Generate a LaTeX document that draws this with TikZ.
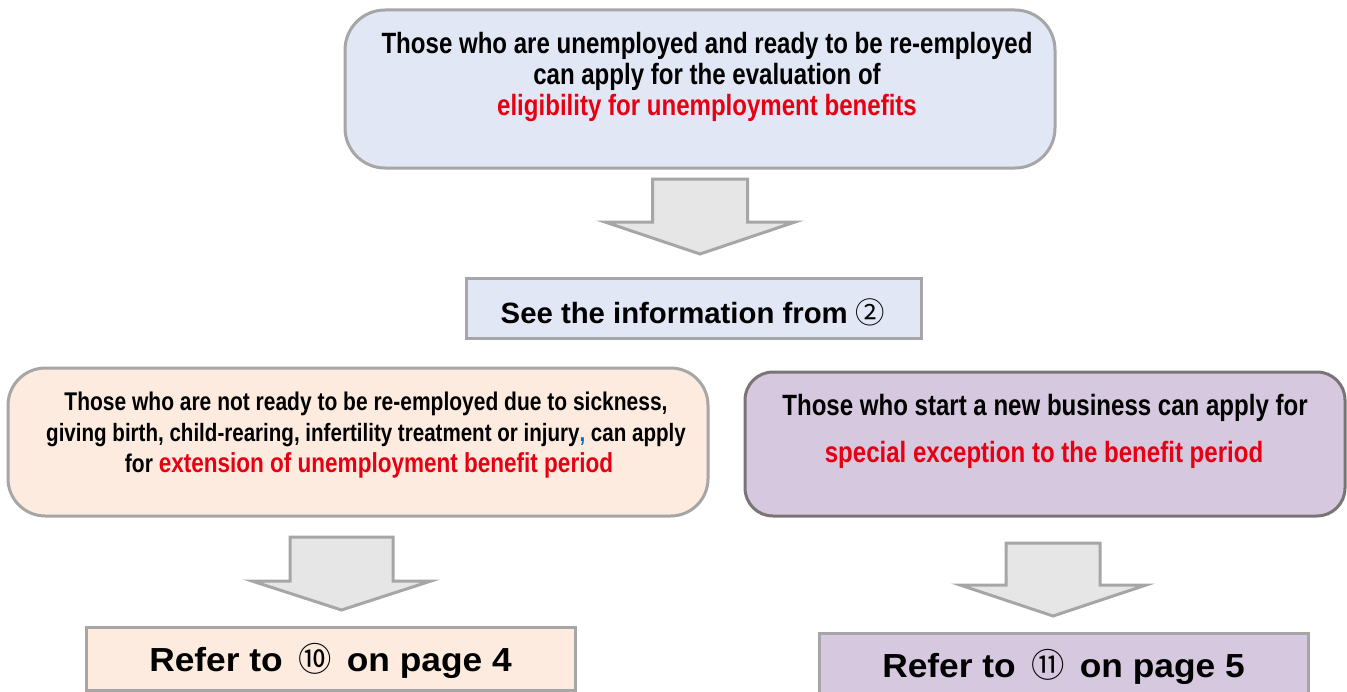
\documentclass[tikz,border=0pt]{standalone}
\usepackage{fontspec}
\setmainfont{Liberation Sans}
\newfontfamily\nar[FakeStretch=0.82]{Liberation Sans}
\newfontfamily\wid[FakeStretch=1.06]{Liberation Sans}
\newfontfamily\cjk{Noto Sans CJK JP}
\definecolor{bordgray}{HTML}{A6A6A6}
\definecolor{darkbord}{HTML}{7A7474}
\definecolor{arrgray}{HTML}{A6A6A6}
\definecolor{arrfill}{HTML}{E6E6E6}
\definecolor{topfill}{HTML}{E2E7F5}
\definecolor{peach}{HTML}{FCEBDE}
\definecolor{lilac}{HTML}{D5C8DF}
\definecolor{hired}{HTML}{E60012}
\definecolor{commablue}{HTML}{0070C0}
\tikzset{
  rbox/.style={draw=bordgray, line width=2.25pt, inner sep=0pt},
  sbox/.style={draw=bordgray, line width=2.25pt, inner sep=0pt},
  barrow/.style={draw=arrgray, fill=arrfill, line width=2.25pt, line join=miter},
  tline/.style={anchor=base, inner sep=0pt, font=\nar\bfseries\fontsize{22pt}{26pt}\selectfont},
  sline/.style={anchor=base, inner sep=0pt, font=\nar\bfseries\fontsize{19.2pt}{23pt}\selectfont},
  bline/.style={anchor=base, inner sep=0pt, font=\bfseries\fontsize{22pt}{26pt}\selectfont},
  rline/.style={anchor=base, inner sep=0pt, font=\wid\bfseries\fontsize{25pt}{29pt}\selectfont},
}
\newcommand{\circnum}[1]{{\cjk\mdseries #1}}
\begin{document}
\begin{tikzpicture}[x=0.75pt,y=-0.75pt]
\useasboundingbox (0,0) rectangle (1347,692);
% top box
\node[rbox, fill=topfill, rounded corners=30pt, minimum width=532.5pt, minimum height=118.5pt] (top) at (700,89) {};
\node[tline] (t1) at (707,54) {Those who are unemployed and ready to be re-employed};
\node[tline] (t2) at (707,85) {can apply for the evaluation of};
\node[tline, text=hired] (t3) at (707,116) {eligibility for unemployment benefits};
% arrow 1
\draw[barrow] (652.5,179) -- (747.5,179) -- (747.5,222) -- (795,222) -- (700,254) -- (605,222) -- (652.5,222) -- cycle;
% see info box
\node[sbox, fill=topfill, minimum width=341.25pt, minimum height=45pt] (see) at (693.5,308.5) {};
\node[bline] (seet) at (693,323) {See the information from \circnum{②}};
% left box
\node[rbox, fill=peach, rounded corners=28pt, minimum width=525pt, minimum height=111pt] (left) at (358,442) {};
\node[sline] (l1) at (366,410) {Those who are not ready to be re-employed due to sickness,};
\node[sline, font=\nar\bfseries\fontsize{18.8pt}{23pt}\selectfont] (l2) at (366,441) {giving birth, child-rearing, infertility treatment or injury{\color{commablue},} can apply};
\node[sline] (l3) at (369,472) {for \textcolor{hired}{\fontsize{20.6pt}{24pt}\selectfont extension of unemployment benefit period}};
% right box
\node[rbox, draw=darkbord, fill=lilac, rounded corners=21pt, minimum width=450pt, minimum height=108pt] (right) at (1045,444) {};
\node[tline] (r1) at (1045,415) {Those who start a new business can apply for};
\node[tline, text=hired] (r2) at (1044,462) {special exception to the benefit period};
% arrow 2
\draw[barrow] (290,537) -- (393,537) -- (393,581) -- (431,581) -- (341.5,610) -- (252,581) -- (290,581) -- cycle;
% arrow 3
\draw[barrow] (1006,543) -- (1100,543) -- (1100,585) -- (1146,585) -- (1053,616) -- (960,585) -- (1006,585) -- cycle;
% refer boxes
\node[sbox, fill=peach, minimum width=366.75pt, minimum height=47.25pt] (ref4) at (330.5,658.5) {};
\node[rline] (ref4t) at (330.5,671) {Refer to \,\circnum{⑩}\, on page 4};
\node[sbox, fill=lilac, minimum width=366.75pt, minimum height=52.5pt] (ref5) at (1063.5,668) {};
\node[rline] (ref5t) at (1063.5,677) {Refer to \,\circnum{⑪}\, on page 5};
\end{tikzpicture}
\end{document}
